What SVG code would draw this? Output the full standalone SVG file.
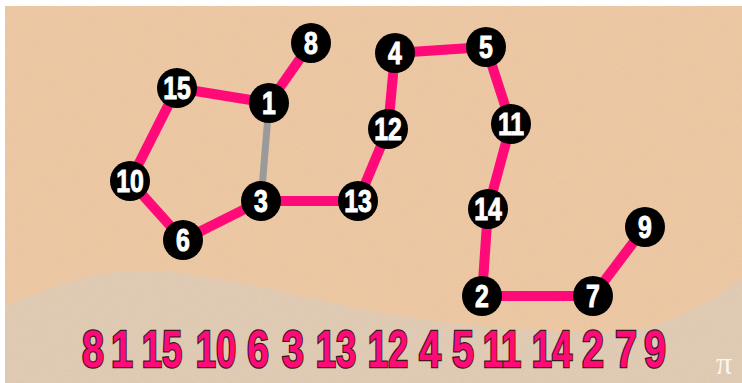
<svg xmlns="http://www.w3.org/2000/svg" width="742" height="383" viewBox="0 0 742 383">
<defs>
<style>
.e{stroke:#FF0A78;stroke-width:10;stroke-linecap:butt;fill:none}
.g{stroke:#9A9A9A;stroke-width:7;fill:none}
.n circle{fill:#000}
.n text{fill:#fff;font-family:"Liberation Sans",Arial,sans-serif;font-weight:bold;font-size:31px;text-anchor:middle;stroke:#fff;stroke-width:1}
.seq text{fill:#FF0A78;stroke:#3A1818;stroke-width:2.6;paint-order:stroke;font-family:"Liberation Sans",Arial,sans-serif;font-weight:bold;font-size:52px;text-anchor:middle}
</style>
<filter id="tex" x="0" y="0" width="100%" height="100%">
<feTurbulence type="fractalNoise" baseFrequency="0.9" numOctaves="2" seed="3" result="t"/>
<feColorMatrix in="t" type="matrix" values="0 0 0 0 0.55  0 0 0 0 0.35  0 0 0 0 0.2  0 0 0 -1.2 0.75" result="c"/>
<feComposite in="c" in2="SourceGraphic" operator="in"/>
</filter>
</defs>
<rect x="0" y="0" width="742" height="383" fill="#fff"/>
<rect x="5" y="6" width="737" height="377" fill="#EDC8A4"/>
<path d="M5,306 C40,292 85,273 130,271 C200,268 290,296 380,313 C450,325 540,333 610,333 C660,331 705,305 742,279 L742,383 L5,383 Z" fill="#E0CBB5"/>
<rect x="5" y="6" width="737" height="377" fill="#E9C29E" filter="url(#tex)" opacity="0.2"/>
<g id="connectors">
<line class="e" x1="311" y1="43" x2="269" y2="103"/>
<line class="e" x1="269" y1="103" x2="177" y2="88"/>
<line class="e" x1="177" y1="88" x2="130" y2="181"/>
<line class="e" x1="130" y1="181" x2="183" y2="240"/>
<line class="e" x1="183" y1="240" x2="261" y2="201"/>
<line class="e" x1="261" y1="201" x2="358" y2="201"/>
<line class="e" x1="358" y1="201" x2="388" y2="129"/>
<line class="e" x1="388" y1="129" x2="395" y2="53"/>
<line class="e" x1="395" y1="53" x2="486" y2="47"/>
<line class="e" x1="486" y1="47" x2="511" y2="124"/>
<line class="e" x1="511" y1="124" x2="488" y2="209"/>
<line class="e" x1="488" y1="209" x2="482" y2="296"/>
<line class="e" x1="482" y1="296" x2="593" y2="296"/>
<line class="e" x1="593" y1="296" x2="645" y2="227"/>
<line class="g" x1="269" y1="103" x2="261" y2="201"/>
</g>
<g id="n8" class="n"><circle cx="311" cy="43" r="20"/><text transform="translate(311,54) scale(0.8,1)">8</text></g>
<g id="n1" class="n"><circle cx="269" cy="103" r="20"/><text transform="translate(269,114) scale(0.8,1)">1</text></g>
<g id="n15" class="n"><circle cx="177" cy="88" r="20"/><text transform="translate(177,99) scale(0.8,1)">15</text></g>
<g id="n10" class="n"><circle cx="130" cy="181" r="20"/><text transform="translate(130,192) scale(0.8,1)">10</text></g>
<g id="n6" class="n"><circle cx="183" cy="240" r="20"/><text transform="translate(183,251) scale(0.8,1)">6</text></g>
<g id="n3" class="n"><circle cx="261" cy="201" r="20"/><text transform="translate(261,212) scale(0.8,1)">3</text></g>
<g id="n13" class="n"><circle cx="358" cy="201" r="20"/><text transform="translate(358,212) scale(0.8,1)">13</text></g>
<g id="n12" class="n"><circle cx="388" cy="129" r="20"/><text transform="translate(388,140) scale(0.8,1)">12</text></g>
<g id="n4" class="n"><circle cx="395" cy="53" r="20"/><text transform="translate(395,64) scale(0.8,1)">4</text></g>
<g id="n5" class="n"><circle cx="486" cy="47" r="20"/><text transform="translate(486,58) scale(0.8,1)">5</text></g>
<g id="n11" class="n"><circle cx="511" cy="124" r="20"/><text transform="translate(511,135) scale(0.8,1)">11</text></g>
<g id="n14" class="n"><circle cx="488" cy="209" r="20"/><text transform="translate(488,220) scale(0.8,1)">14</text></g>
<g id="n2" class="n"><circle cx="482" cy="296" r="20"/><text transform="translate(482,307) scale(0.8,1)">2</text></g>
<g id="n7" class="n"><circle cx="593" cy="296" r="20"/><text transform="translate(593,307) scale(0.8,1)">7</text></g>
<g id="n9" class="n"><circle cx="645" cy="227" r="20"/><text transform="translate(645,238) scale(0.8,1)">9</text></g>
<g id="sequence" class="seq">
<text transform="translate(93,367) scale(0.76,1)">8</text>
<text transform="translate(122,367) scale(0.76,1)">1</text>
<text transform="translate(162,367) scale(0.7,1)">15</text>
<text transform="translate(216,367) scale(0.7,1)">10</text>
<text transform="translate(258,367) scale(0.76,1)">6</text>
<text transform="translate(293,367) scale(0.76,1)">3</text>
<text transform="translate(336,367) scale(0.7,1)">13</text>
<text transform="translate(388,367) scale(0.7,1)">12</text>
<text transform="translate(430,367) scale(0.76,1)">4</text>
<text transform="translate(463,367) scale(0.76,1)">5</text>
<text transform="translate(502,367) scale(0.7,1)">11</text>
<text transform="translate(552,367) scale(0.7,1)">14</text>
<text transform="translate(593,367) scale(0.76,1)">2</text>
<text transform="translate(626,367) scale(0.76,1)">7</text>
<text transform="translate(655,367) scale(0.76,1)">9</text>
</g>
<text x="724" y="374" fill="#FAF6F0" font-family="'Liberation Serif',serif" font-size="32" text-anchor="middle">π</text>
</svg>
